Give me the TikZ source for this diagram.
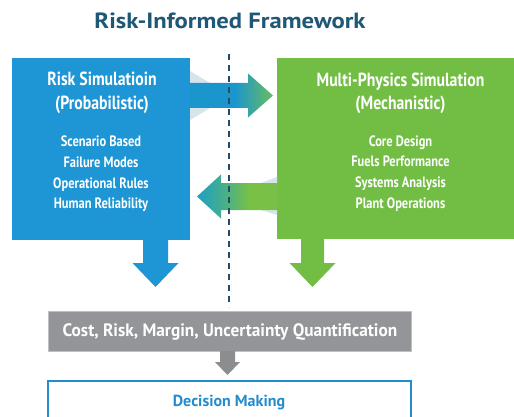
\documentclass[tikz,border=0pt]{standalone}
\usepackage{fontspec}
\setmainfont{PT Sans}
\newfontfamily\condfont[FakeStretch=0.83]{PT Sans}
\newfontfamily\titlefont[FakeStretch=1.12]{PT Sans}
\newfontfamily\costfont[FakeStretch=0.96]{PT Sans}
\usetikzlibrary{calc}
\definecolor{boxblue}{RGB}{30,149,212}
\definecolor{boxgreen}{RGB}{114,190,68}
\definecolor{boxgrey}{RGB}{147,149,152}
\definecolor{greyedge}{RGB}{192,192,194}
\definecolor{titleblue}{RGB}{30,88,118}
\definecolor{dashnavy}{RGB}{35,75,105}
\definecolor{decblue}{RGB}{35,140,205}
\definecolor{arrA}{RGB}{27,150,205}
\definecolor{arrB}{RGB}{105,188,95}
\definecolor{arrTeal}{RGB}{30,160,195}
\definecolor{arrGreen}{RGB}{120,192,70}
\definecolor{wedge}{RGB}{214,228,236}
\definecolor{greyarrow}{RGB}{140,141,143}
\pgfdeclarehorizontalshading{rshade}{100bp}{color(0bp)=(arrA); color(25bp)=(arrA); color(52bp)=(arrA); color(75bp)=(arrB); color(100bp)=(arrB)}
\pgfdeclarehorizontalshading{lshade}{100bp}{color(0bp)=(arrTeal); color(25bp)=(arrTeal); color(40bp)=(arrTeal!60!arrGreen); color(58bp)=(arrGreen); color(100bp)=(arrGreen)}
\newcommand\blockarrow[6][]{%
  \coordinate (bas) at #2; \coordinate (bat) at #3;
  \coordinate (bah) at ($(bat)!#6!(bas)$);
  \path[#1] ($(bas)!#4!90:(bat)$) -- ($(bah)!#4!90:(bat)$) -- ($(bah)!#5!90:(bat)$) -- (bat)
     -- ($(bah)!#5!-90:(bat)$) -- ($(bah)!#4!-90:(bat)$) -- ($(bas)!#4!-90:(bat)$) -- cycle;}
\begin{document}
\begin{tikzpicture}[x=1pt,y=-1pt,
  box/.style={rectangle, inner sep=0pt, outer sep=0pt, draw=none},
  hdr/.style={font=\condfont\bfseries\fontsize{19}{22}\selectfont, text=white, anchor=base, inner sep=0pt},
  item/.style={font=\condfont\bfseries\fontsize{15}{18}\selectfont, text=white, anchor=base, inner sep=0pt},
  divider/.style={draw=dashnavy, line width=2pt, dash pattern=on 6pt off 5pt},
  wedgefill/.style={fill=wedge}]
\useasboundingbox (0,0) rectangle (514,417);
\clip (0,0) rectangle (514,417);
\fill[white] (0,0) rectangle (514,417);

% title
\node[font=\titlefont\bfseries\fontsize{22}{26}\selectfont, text=titleblue, anchor=base, inner sep=0pt] (title) at (230,29) {Risk-Informed Framework};

% main boxes
\node[box, fill=boxblue, minimum width=178pt, minimum height=182pt] (blue) at (101,149) {};
\node[box, fill=boxgreen, minimum width=243pt, minimum height=181pt] (green) at (398.5,148.5) {};
\node[box, fill=boxgrey, draw=greyedge, line width=1pt, minimum width=363pt, minimum height=40pt] (cost) at (229.5,331) {};
\node[box, fill=white, draw=decblue, line width=1.3pt, minimum width=363pt, minimum height=48pt] (dec) at (229.5,405) {};

% texts
\node[hdr] (bh1) at (102,85.7) {Risk Simulatioin};
\node[hdr] (bh2) at (102,109.3) {(Probabilistic)};
\node[item] (bi1) at (101,146.7) {Scenario Based};
\node[item] (bi2) at (101,167.2) {Failure Modes};
\node[item] (bi3) at (101,188) {Operational Rules};
\node[item] (bi4) at (101,208.7) {Human Reliability};
\node[hdr] (gh1) at (400.5,86.5) {Multi-Physics Simulation};
\node[hdr] (gh2) at (400.5,110) {(Mechanistic)};
\node[item] (gi1) at (400.5,146.7) {Core Design};
\node[item] (gi2) at (400.5,167) {Fuels Performance};
\node[item] (gi3) at (400.5,187.8) {Systems Analysis};
\node[item] (gi4) at (400.5,208.5) {Plant Operations};
\node[font=\costfont\bfseries\fontsize{18}{22}\selectfont, text=white, anchor=base, inner sep=0pt] (costtext) at (230,336.7) {Cost, Risk, Margin, Uncertainty Quantification};
\node[font=\bfseries\fontsize{16}{20}\selectfont, text=decblue, anchor=base, inner sep=0pt] (dectext) at (229,406.7) {Decision Making};

% arrow free ends
\coordinate (rtip) at (273,95.5);
\coordinate (ltip) at (197,196.5);
\coordinate (btip) at (155.5,287);
\coordinate (gtip) at (312.5,287);
\coordinate (ctip) at (227.5,375);

% faint wedges at arrow bases
\fill[wedgefill] (blue.east |- 0,71) -- (210,83) -- (blue.east |- 0,83) -- cycle;
\fill[wedgefill] (blue.east |- 0,120) -- (210,108) -- (blue.east |- 0,108) -- cycle;
\fill[wedgefill] (green.west |- 0,177) -- (261,183) -- (green.west |- 0,183) -- cycle;
\fill[wedgefill] (green.west |- 0,215) -- (261,210) -- (green.west |- 0,210) -- cycle;

% block arrows
\blockarrow[shading=rshade]{(blue.east |- rtip)}{(rtip)}{12.5pt}{22pt}{25pt}
\blockarrow[shading=lshade]{(green.west |- ltip)}{(ltip)}{13.5pt}{22pt}{24pt}
\blockarrow[fill=boxblue]{(blue.south -| btip)}{(btip)}{12.5pt}{23pt}{24pt}
\blockarrow[fill=boxgreen]{(green.south -| gtip)}{(gtip)}{11.5pt}{23pt}{24pt}
\blockarrow[fill=greyarrow]{(cost.south -| ctip)}{(ctip)}{7.5pt}{12.5pt}{13pt}

% dashed divider
\coordinate (dtop) at (229,54);
\coordinate (dbot) at (229,307);
\draw[divider] (dtop) -- (dbot);
\end{tikzpicture}
\end{document}
